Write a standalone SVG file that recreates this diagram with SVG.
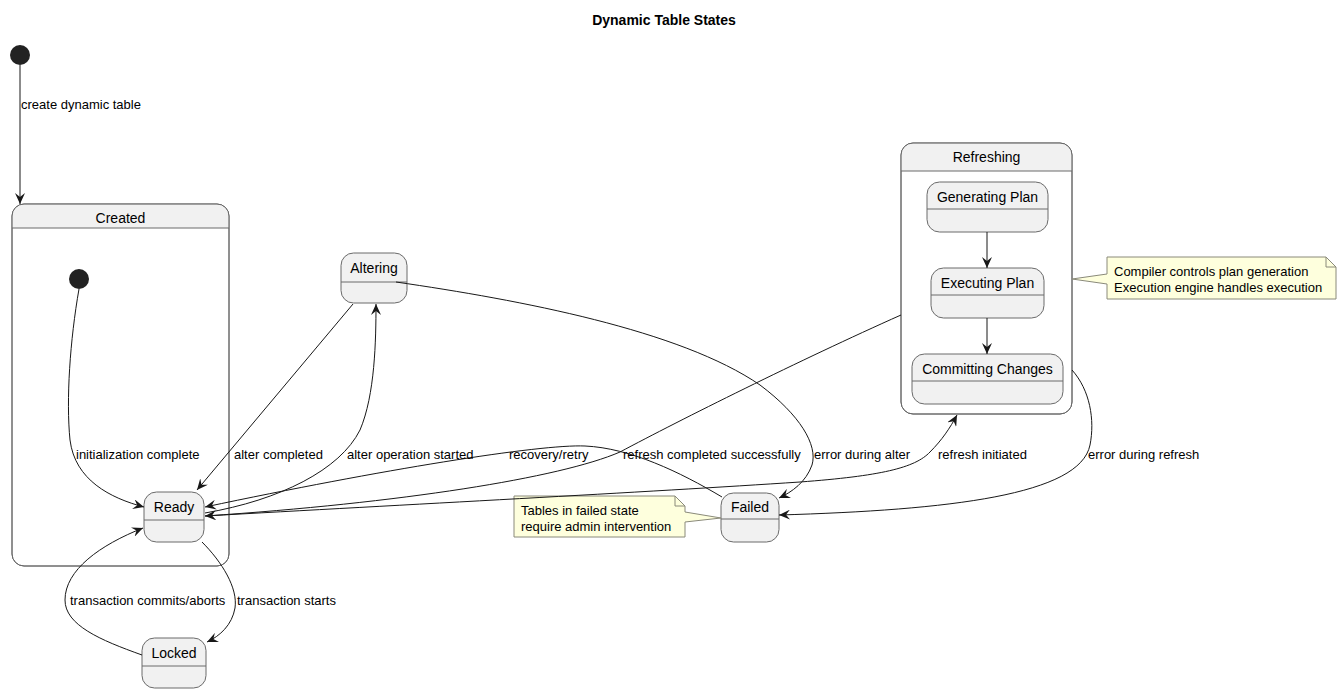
<svg xmlns="http://www.w3.org/2000/svg" width="1342" height="693" viewBox="0 0 1342 693">
<style>
text{font-family:"Liberation Sans",Arial,sans-serif;fill:#000}
.t{font-size:14px;text-anchor:middle}
.l{font-size:13px}
.title{font-size:14px;font-weight:bold;text-anchor:middle}
.st{fill:#F1F1F1;stroke:#6a6a6a;stroke-width:1}
.cp{fill:#FFFFFF;stroke:#6a6a6a;stroke-width:1}
.hd{fill:#F1F1F1;stroke:none}
.sep{stroke:#6a6a6a;stroke-width:1}
.e{fill:none;stroke:#181818;stroke-width:1;marker-end:url(#ah)}
.note{fill:#FEFFDD;stroke:#8a8a7a;stroke-width:1}
.fold{fill:none;stroke:#8a8a7a;stroke-width:1}
</style>
<defs>
<marker id="ah" viewBox="0 0 12 10" refX="11" refY="5" markerWidth="12" markerHeight="10" markerUnits="userSpaceOnUse" orient="auto">
<path d="M0,0 L11,5 L0,10 L4,5 Z" fill="#181818"/>
</marker>
</defs>
<rect width="1342" height="693" fill="#FFFFFF"/>
<text class="title" x="664" y="25">Dynamic Table States</text>

<g id="start">
<circle cx="20" cy="55" r="10" fill="#222222"/>
</g>

<g id="Created">
<rect class="cp" x="12" y="204" width="217" height="362" rx="12"/>
<path class="hd" d="M12.5,228 L12.5,216 A11.5,11.5 0 0 1 24,204.5 L217,204.5 A11.5,11.5 0 0 1 228.5,216 L228.5,228 Z"/>
<rect x="12" y="204" width="217" height="362" rx="12" fill="none" stroke="#6a6a6a"/>
<line class="sep" x1="12" y1="228" x2="229" y2="228"/>
<text class="t" x="120.5" y="223">Created</text>
<circle cx="79" cy="279" r="10" fill="#222222"/>
</g>

<g id="Refreshing">
<rect class="cp" x="901" y="143" width="171" height="271" rx="12"/>
<path class="hd" d="M901.5,171 L901.5,155 A11.5,11.5 0 0 1 913,143.5 L1060,143.5 A11.5,11.5 0 0 1 1071.5,155 L1071.5,171 Z"/>
<rect x="901" y="143" width="171" height="271" rx="12" fill="none" stroke="#6a6a6a"/>
<line class="sep" x1="901" y1="171" x2="1072" y2="171"/>
<text class="t" x="986.5" y="162">Refreshing</text>
</g>

<g id="GeneratingPlan">
<rect class="st" x="927" y="182" width="121" height="50" rx="12.5"/>
<line class="sep" x1="927" y1="209" x2="1048" y2="209"/>
<text class="t" x="987.5" y="202">Generating Plan</text>
</g>
<g id="ExecutingPlan">
<rect class="st" x="931" y="268" width="113" height="50" rx="12.5"/>
<line class="sep" x1="931" y1="295" x2="1044" y2="295"/>
<text class="t" x="987.5" y="288">Executing Plan</text>
</g>
<g id="CommittingChanges">
<rect class="st" x="912" y="354" width="151" height="50" rx="12.5"/>
<line class="sep" x1="912" y1="381" x2="1063" y2="381"/>
<text class="t" x="987.5" y="374">Committing Changes</text>
</g>

<g id="Ready">
<rect class="st" x="144" y="492" width="60" height="50" rx="12.5"/>
<line class="sep" x1="144" y1="520" x2="204" y2="520"/>
<text class="t" x="174" y="512">Ready</text>
</g>
<g id="Locked">
<rect class="st" x="142" y="638" width="64" height="50" rx="12.5"/>
<line class="sep" x1="142" y1="666" x2="206" y2="666"/>
<text class="t" x="174" y="658">Locked</text>
</g>
<g id="Altering">
<rect class="st" x="341" y="253" width="66" height="50" rx="12.5"/>
<line class="sep" x1="341" y1="282" x2="407" y2="282"/>
<text class="t" x="374" y="273">Altering</text>
</g>
<g id="Failed">
<rect class="st" x="721" y="493" width="58" height="49" rx="12.5"/>
<line class="sep" x1="721" y1="519" x2="779" y2="519"/>
<text class="t" x="750" y="512">Failed</text>
</g>

<g id="noteRefreshing">
<path class="note" d="M1107,257 L1326,257 L1336,267 L1336,299 L1107,299 L1107,284 L1072,279 L1107,274 Z"/>
<path class="fold" d="M1326,257 L1326,267 L1336,267"/>
<text class="l" x="1114" y="276">Compiler controls plan generation</text>
<text class="l" x="1114" y="292">Execution engine handles execution</text>
</g>
<g id="noteFailed">
<path class="note" d="M514,496 L675,496 L685,506 L685,512 L721,518 L685,522 L685,537 L514,537 Z"/>
<path class="fold" d="M675,496 L675,506 L685,506"/>
<text class="l" x="521" y="515">Tables in failed state</text>
<text class="l" x="521" y="531">require admin intervention</text>
</g>

<g id="connectors">
<path class="e" d="M20,65 L20,204"/>
<path class="e" d="M79,289 C70,340 66,400 70,440 C75,480 110,498 144,507"/>
<path class="e" d="M202,542 C222,562 238,588 235,608 C232,625 220,636 207,642"/>
<path class="e" d="M142,655 C100,640 65,625 65,600 C65,570 100,545 143,528"/>
<path class="e" d="M205,513 C280,500 340,470 360,430 C375,395 376,340 376,304"/>
<path class="e" d="M353,304 L197,490"/>
<path class="e" d="M205,516 C400,505 650,492 800,482 C880,476 915,468 930,452 C942,440 950,428 957,415"/>
<path class="e" d="M901,315 C800,360 680,420 620,452 C560,478 400,503 205,516"/>
<path class="e" d="M396,282 C520,300 680,330 760,385 C800,415 818,445 812,465 C806,482 792,492 779,498"/>
<path class="e" d="M1072,370 C1090,390 1095,420 1090,445 C1080,495 950,510 779,515"/>
<path class="e" d="M722,497 C680,472 630,448 585,446 C540,444 380,470 205,507"/>
<path class="e" d="M987,232 L987,268"/>
<path class="e" d="M987,318 L987,354"/>
<text class="l" x="21" y="109">create dynamic table</text>
<text class="l" x="76" y="459">initialization complete</text>
<text class="l" x="234" y="459">alter completed</text>
<text class="l" x="347" y="459">alter operation started</text>
<text class="l" x="509" y="459">recovery/retry</text>
<text class="l" x="623" y="459">refresh completed successfully</text>
<text class="l" x="814" y="459">error during alter</text>
<text class="l" x="938" y="459">refresh initiated</text>
<text class="l" x="1088" y="459">error during refresh</text>
<text class="l" x="70" y="605">transaction commits/aborts</text>
<text class="l" x="237" y="605">transaction starts</text>
</g>
</svg>
